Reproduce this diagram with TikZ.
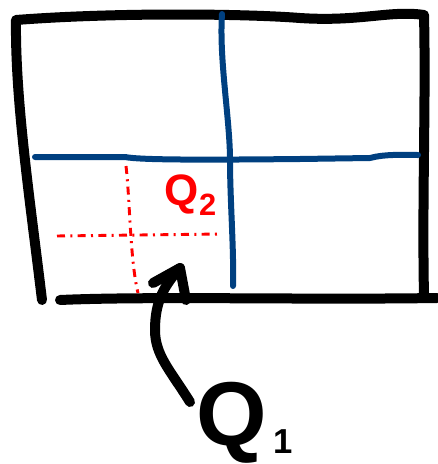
\documentclass[tikz,border=0pt]{standalone}
\usepackage{fontspec}
\setmainfont{Liberation Sans}
\definecolor{penblue}{RGB}{0,64,128}
\definecolor{penred}{RGB}{255,0,0}
\begin{document}
\begin{tikzpicture}[x=0.75pt,y=-0.75pt,
  blackpen/.style={line width=7.5pt,line cap=round,line join=round,black},
  bluepen/.style={line width=4.5pt,line cap=round,line join=round,penblue},
  redpen/.style={line width=2.2pt,penred,dash pattern=on 6pt off 4pt on 1.5pt off 4pt},
  lbl/.style={inner sep=0pt,font=\bfseries}]
\useasboundingbox (0,0) rectangle (437,464);
% outer frame
\coordinate (tl) at (16,20);
\coordinate (tr) at (424,15);
\coordinate (bl) at (42,300);
\coordinate (br) at (437,298);
\draw[blackpen] (bl) .. controls (30,200) and (15,100) .. (tl)
  .. controls (120,12) and (250,14) .. (300,18)
  .. controls (360,22) and (390,10) .. (tr)
  .. controls (426,100) and (422,200) .. (424,296);
\draw[blackpen] (60,300) .. controls (150,296) and (300,300) .. (br);
% blue cross
\coordinate (vt) at (222,14);
\coordinate (vb) at (233,286);
\coordinate (hl) at (35,157);
\coordinate (hr) at (418,155);
\draw[bluepen] (vt) .. controls (219,60) and (230,120) .. (230,160) .. controls (230,200) and (234,250) .. (vb);
\draw[bluepen] (hl) -- (125,157) .. controls (140,160) and (200,160) .. (300,159) -- (370,158) .. controls (385,154) and (400,155) .. (hr);
% red dashed lines
\coordinate (rt) at (126,166);
\coordinate (rb) at (138,293);
\coordinate (rl) at (57,236);
\coordinate (rr) at (222,234);
\draw[redpen] (rt) .. controls (130,200) and (130,260) .. (rb);
\draw[redpen] (rl) -- (rr);
\node[lbl,text=penred,font=\bfseries\fontsize{33}{33}\selectfont] (q2) at (191,195) {Q\textsubscript{2}};
% arrow and label
\node[lbl,font=\bfseries\fontsize{68}{68}\selectfont] (q1) at (232,423) {Q};
\node[lbl,font=\bfseries\fontsize{26}{26}\selectfont] (one) at (283,442) {1};
\coordinate (tail) at (190,402);
\coordinate (tip) at (180,268);
\draw[blackpen] (tail) .. controls (170,370) and (155,355) .. (155,330)
  .. controls (155,300) and (165,285) .. (tip);
\draw[blackpen] (153,283) -- (tip) -- (186,300);
\end{tikzpicture}
\end{document}
